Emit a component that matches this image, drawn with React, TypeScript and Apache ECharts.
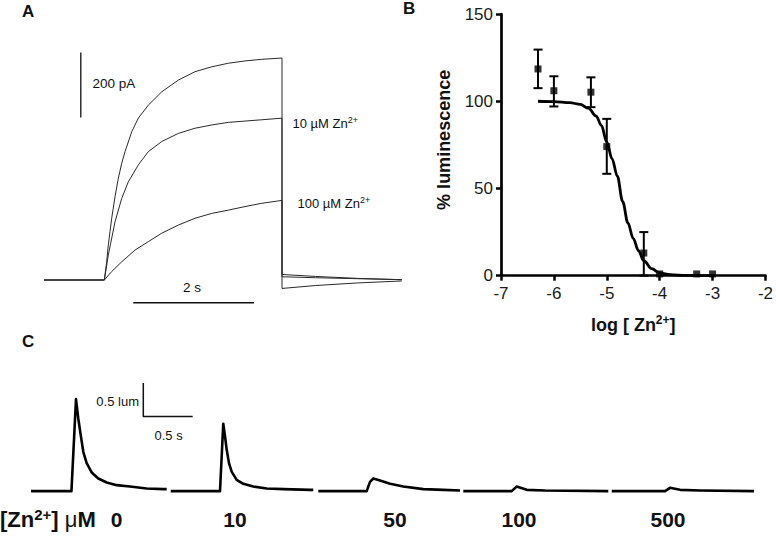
import React, { useEffect, useRef } from 'react';
import * as echarts from 'echarts';

const FONT = '"Liberation Sans", Arial, Helvetica, sans-serif';

// ---------- Panel A: currents, [time (s), current (pA)] ----------
const traceControl = [
  [0, 0], [1.0, 0], [1.039, 56], [1.066, 108], [1.094, 149], [1.122, 190], [1.177, 256],
  [1.232, 313], [1.288, 359], [1.343, 395], [1.454, 456], [1.563, 498], [1.729, 538],
  [1.951, 579], [2.226, 615], [2.503, 641], [2.78, 656], [3.055, 667], [3.332, 674],
  [3.608, 679], [3.945, 683], [3.945, -26], [4.5, -17], [5.2, -9], [5.93, -3],
];
const trace10uM = [
  [0, 0], [1.0, 0], [1.066, 77], [1.177, 179], [1.288, 251], [1.397, 302], [1.563, 354],
  [1.729, 395], [1.951, 426], [2.226, 451], [2.503, 467], [2.78, 477], [3.055, 485],
  [3.332, 489], [3.608, 493], [3.945, 498], [3.945, 17], [4.5, 11], [5.2, 5], [5.93, 1],
];
const trace100uM = [
  [0, 0], [1.0, 0], [1.122, 26], [1.288, 56], [1.508, 92], [1.729, 118], [1.951, 144],
  [2.226, 169], [2.503, 190], [2.78, 205], [3.055, 215], [3.332, 226], [3.608, 236],
  [3.945, 245], [3.945, 10], [4.5, 7], [5.2, 4], [5.93, 1],
];
const scaleBarCurrent = [[0.61, 500], [0.61, 700]]; // 200 pA
const scaleBarTime = [[1.48, -70], [3.48, -70]]; // 2 s

// ---------- Panel B: dose response ----------
const logZn = [-6.3, -6, -5.3, -5, -4.3, -4, -3.3, -3];
const lumMean = [118.5, 106, 105.2, 74, 13, 1, 1, 1];
const lumLow = [107.5, 97, 96.6, 58.4, 0, null, null, null];
const lumHigh = [129.6, 114.3, 113.7, 89.9, 25, null, null, null];
const fitLogZn = [-6.3, -6, -5.7, -5.5, -5.35, -5.2, -5.1, -5.0, -4.9, -4.8, -4.7, -4.6, -4.5, -4.4, -4.3, -4.15, -4.0, -3.8, -3.5, -3.0];
const fitLum = [100, 99.8, 99.2, 98.2, 96, 91.5, 86, 76.5, 67, 57, 42.5, 30.2, 21.4, 14.3, 8.6, 4, 1.6, 0.6, 0.15, 0];

// ---------- Panel C: luminescence, [time (s), lum] ----------
const seg0 = [
  [0.01, 0], [0.42, 0], [0.466, 1.38], [0.489, 1.09], [0.514, 0.84], [0.54, 0.59], [0.574, 0.42],
  [0.625, 0.28], [0.692, 0.19], [0.777, 0.13], [0.878, 0.09], [1.013, 0.07], [1.182, 0.04],
  [1.351, 0.03], [1.385, 0.03],
];
const seg10 = [
  [1.426, 0], [1.925, 0], [1.958, 1.01], [1.976, 0.82], [1.993, 0.62], [2.016, 0.42], [2.044, 0.29],
  [2.094, 0.17], [2.161, 0.11], [2.262, 0.07], [2.398, 0.04], [2.566, 0.03], [2.837, 0.02], [2.87, 0.02],
];
const seg50 = [
  [2.921, 0], [3.411, 0], [3.445, 0.14], [3.478, 0.19], [3.546, 0.16], [3.648, 0.11], [3.782, 0.07],
  [3.985, 0.03], [4.188, 0.02], [4.357, 0.01],
];
const seg100 = [[4.39, 0], [4.88, 0], [4.931, 0.07], [5.032, 0.02], [5.218, 0.01], [5.859, 0]];
const seg500 = [[5.894, 0], [6.434, 0], [6.484, 0.05], [6.586, 0.02], [6.788, 0.01], [7.335, 0]];
const scaleBarLum = [[1.148, 1.62], [1.148, 1.12], [1.648, 1.12]]; // 0.5 lum / 0.5 s
const zincLabels = ['0', '10', '50', '100', '500'];
const zincLabelX = [116.7, 235, 395, 519, 668];

const hiddenAxis = { show: false };

function txt(x: number, y: number, text: string, extra: any = {}) {
  return {
    type: 'text',
    x,
    y,
    silent: true,
    style: {
      text,
      fill: '#111',
      fontFamily: FONT,
      fontSize: 13,
      align: 'left',
      textAlign: 'left',
      verticalAlign: 'middle',
      textVerticalAlign: 'middle',
      ...extra,
    },
  };
}

export default function App() {
  const ref = useRef<HTMLDivElement>(null);

  useEffect(() => {
    document.body.style.margin = '0';
    if (!ref.current) return;
    const chart = echarts.init(ref.current, null, { renderer: 'svg' });

    const errData = logZn
      .map((x, i) => [x, lumLow[i], lumHigh[i]])
      .filter((d) => d[1] !== null);

    const supRich = (size: number, weight: string) => ({
      sup: { fontSize: size, fontWeight: weight, fontFamily: FONT, fill: '#111', color: '#111', verticalAlign: 'top', lineHeight: size },
    });

    const lineS = (data: number[][], grid: number, width: number, color = '#000') => ({
      type: 'line',
      xAxisIndex: grid,
      yAxisIndex: grid,
      data,
      symbol: 'none',
      showSymbol: false,
      silent: true,
      lineStyle: { color, width, join: 'round', cap: 'butt' },
      z: 3,
    });

    const option: any = {
      animation: false,
      backgroundColor: '#fff',
      grid: [
        { left: 44, top: 20, width: 362, height: 292.5 },
        { left: 501, top: 14, width: 266.7, height: 261.7 },
        { left: 30, top: 371.1, width: 730.4, height: 133.4 },
      ],
      xAxis: [
        { gridIndex: 0, type: 'value', min: 0, max: 6, ...hiddenAxis },
        {
          gridIndex: 1, type: 'value', min: -7, max: -2, interval: 1,
          axisLine: { show: true, onZero: false, lineStyle: { color: '#000', width: 2.7 } },
          axisTick: { show: true, length: 5, lineStyle: { color: '#000', width: 2.5 } },
          axisLabel: { color: '#1a1a1a', fontSize: 17, fontFamily: FONT, margin: 9 },
          splitLine: { show: false },
          name: 'log [ Zn{sup|2+}]',
          nameLocation: 'middle',
          nameGap: 38,
          nameTextStyle: {
            color: '#111', fontSize: 18, fontWeight: 'bold', fontFamily: FONT, lineHeight: 22,
            rich: supRich(12, 'bold'),
          },
        },
        { gridIndex: 2, type: 'value', min: 0, max: 7.4, ...hiddenAxis },
      ],
      yAxis: [
        { gridIndex: 0, type: 'value', min: -100, max: 800, ...hiddenAxis },
        {
          gridIndex: 1, type: 'value', min: 0, max: 150, interval: 50,
          axisLine: { show: true, onZero: false, lineStyle: { color: '#000', width: 2.7 } },
          axisTick: { show: true, length: 5, lineStyle: { color: '#000', width: 2.5 } },
          axisLabel: { color: '#1a1a1a', fontSize: 17, fontFamily: FONT, margin: 8 },
          splitLine: { show: false },
          name: '% luminescence',
          nameLocation: 'middle',
          nameGap: 48,
          nameRotate: 90,
          nameTextStyle: { color: '#111', fontSize: 18, fontWeight: 'bold', fontFamily: FONT, padding: [0, 0, 0, 10] },
        },
        { gridIndex: 2, type: 'value', min: -0.2, max: 1.8, ...hiddenAxis },
      ],
      series: [
        // Panel A
        lineS(traceControl, 0, 1, '#2a2a2a'),
        lineS(trace10uM, 0, 1, '#2a2a2a'),
        lineS(trace100uM, 0, 1, '#2a2a2a'),
        lineS(scaleBarCurrent, 0, 1.3, '#111'),
        lineS(scaleBarTime, 0, 1.3, '#111'),
        // Panel B
        {
          type: 'line', xAxisIndex: 1, yAxisIndex: 1,
          data: fitLogZn.map((x, i) => [x, fitLum[i]]),
          smooth: 0.35, smoothMonotone: 'x', symbol: 'none', showSymbol: false, silent: true,
          lineStyle: { color: '#000', width: 2.8 }, z: 3,
        },
        {
          type: 'custom', xAxisIndex: 1, yAxisIndex: 1, silent: true, z: 4,
          data: errData,
          encode: { x: 0, y: [1, 2] },
          renderItem: (params: any, api: any) => {
            const x = api.value(0);
            const lo = api.coord([x, api.value(1)]);
            const hi = api.coord([x, api.value(2)]);
            const w = 4.5;
            const st = { stroke: '#000', lineWidth: 2 };
            return {
              type: 'group',
              children: [
                { type: 'line', shape: { x1: lo[0], y1: lo[1], x2: hi[0], y2: hi[1] }, style: st },
                { type: 'line', shape: { x1: hi[0] - w, y1: hi[1], x2: hi[0] + w, y2: hi[1] }, style: st },
                { type: 'line', shape: { x1: lo[0] - w, y1: lo[1], x2: lo[0] + w, y2: lo[1] }, style: st },
              ],
            };
          },
        },
        {
          type: 'scatter', xAxisIndex: 1, yAxisIndex: 1, silent: true, z: 5,
          data: logZn.map((x, i) => [x, lumMean[i]]),
          symbol: 'rect', symbolSize: 7,
          itemStyle: { color: '#000' },
        },
        // Panel C
        lineS(seg0, 2, 2.6),
        lineS(seg10, 2, 2.6),
        lineS(seg50, 2, 2.6),
        lineS(seg100, 2, 2.6),
        lineS(seg500, 2, 2.6),
        lineS(scaleBarLum, 2, 1.5, '#111'),
      ],
      graphic: [
        txt(22, 11, 'A', { fontSize: 17, fontWeight: 'bold' }),
        txt(403, 8, 'B', { fontSize: 17, fontWeight: 'bold' }),
        txt(22, 341, 'C', { fontSize: 17, fontWeight: 'bold' }),
        txt(92.5, 83.5, '200 pA', { fontSize: 13.5 }),
        txt(192, 287, '2 s', { fontSize: 13.5, align: 'center', textAlign: 'center' }),
        txt(292.5, 123, '10 \u00b5M Zn{sup|2+}', { fontSize: 13, lineHeight: 16, rich: supRich(9, 'normal') }),
        txt(297.5, 203, '100 \u00b5M Zn{sup|2+}', { fontSize: 13, lineHeight: 16, rich: supRich(9, 'normal') }),
        txt(139, 401, '0.5 lum', { fontSize: 13, align: 'right', textAlign: 'right' }),
        txt(154.5, 435, '0.5 s', { fontSize: 13 }),
        txt(0, 519, '{b|[Zn}{sup|2+}{b|]}{m|\u00a0\u03bc}{b|M}', {
          fontSize: 22, fontWeight: 'bold', lineHeight: 24,
          rich: {
            b: { fontSize: 22, fontWeight: 'bold', fontFamily: FONT, fill: '#111', color: '#111', lineHeight: 24 },
            m: { fontSize: 22, fontWeight: 'normal', fontFamily: FONT, fill: '#111', color: '#111', lineHeight: 24 },
            sup: { fontSize: 15, fontWeight: 'bold', fontFamily: FONT, fill: '#111', color: '#111', verticalAlign: 'top', lineHeight: 14 },
          },
        }),
        ...zincLabels.map((l, i) =>
          txt(zincLabelX[i], 519, l, { fontSize: 21, fontWeight: 'bold', align: 'center', textAlign: 'center' })
        ),
      ],
    };

    chart.setOption(option);
    return () => chart.dispose();
  }, []);

  return <div ref={ref} style={{ width: 776, height: 536 }} />;
}
